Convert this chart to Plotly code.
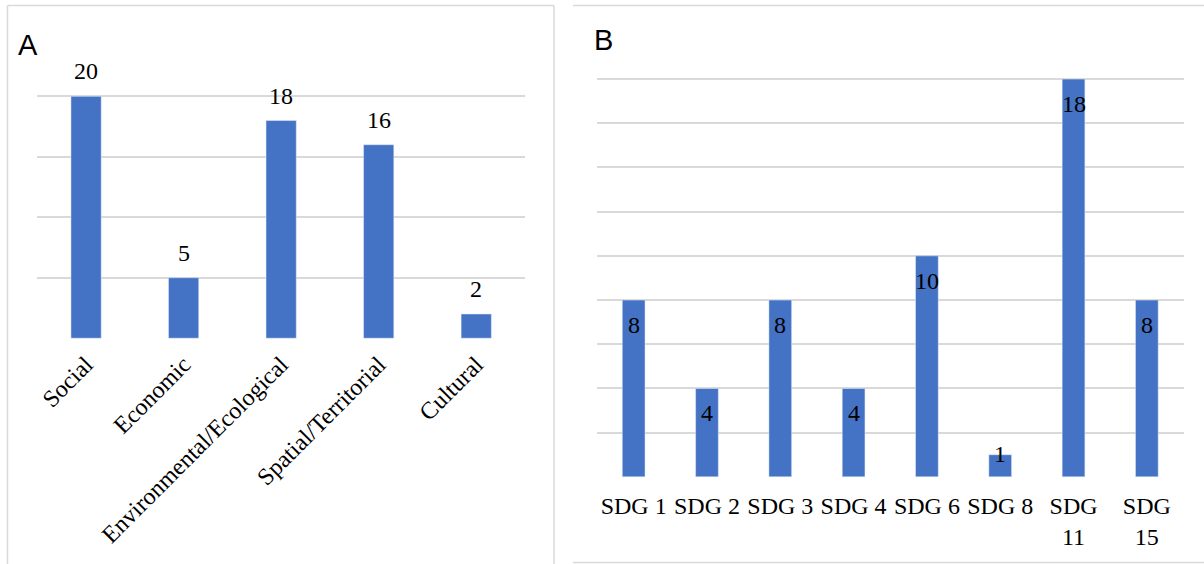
import plotly.graph_objects as go

W, H = 1204, 564

# Panel A: sustainability dimensions
dimensions = ["Social", "Economic", "Environmental/Ecological", "Spatial/Territorial", "Cultural"]
dimension_counts = [20, 5, 18, 16, 2]

# Panel B: Sustainable Development Goals
sdg_labels = ["SDG 1", "SDG 2", "SDG 3", "SDG 4", "SDG 6", "SDG 8", "SDG<br>11", "SDG<br>15"]
sdg_counts = [8, 4, 8, 4, 10, 1, 18, 8]

BAR = "#4472C4"
GRID = "#d9d9d9"
FRAME = "#d9d9d9"
SERIF = "Times New Roman, Liberation Serif, serif"
SANS = "Arial, Liberation Sans, sans-serif"


def fx(p):
    return p / W


def fy(p):
    return 1 - p / H


fig = go.Figure()
fig.add_trace(go.Bar(x=dimensions, y=dimension_counts, marker_color=BAR, width=0.31,
                     xaxis="x", yaxis="y", hoverinfo="skip"))
fig.add_trace(go.Bar(x=sdg_labels, y=sdg_counts, marker_color=BAR, width=0.31,
                     xaxis="x2", yaxis="y2", hoverinfo="skip"))

annotations = []
# value labels above the bars in panel A
for cat, v in zip(dimensions, dimension_counts):
    annotations.append(dict(x=cat, y=v, xref="x", yref="y", text=str(v), showarrow=False,
                            yanchor="bottom", yshift=10, font=dict(family=SERIF, size=24, color="#000")))
# value labels at the inner end of the bars in panel B
for cat, v in zip(sdg_labels, sdg_counts):
    if v < 2:
        annotations.append(dict(x=cat, y=v, xref="x2", yref="y2", text=str(v), showarrow=False,
                                yanchor="middle", yshift=1, font=dict(family=SERIF, size=24, color="#000")))
    else:
        annotations.append(dict(x=cat, y=v, xref="x2", yref="y2", text=str(v), showarrow=False,
                                yanchor="top", yshift=-10, font=dict(family=SERIF, size=24, color="#000")))

# panel letters on white boxes
annotations.append(dict(x=fx(16), y=fy(45), xref="paper", yref="paper", text="A", showarrow=False,
                        xanchor="left", yanchor="middle", align="left", width=41, bgcolor="white",
                        font=dict(family=SANS, size=29, color="#000")))
annotations.append(dict(x=fx(592), y=fy(40), xref="paper", yref="paper", text="B", showarrow=False,
                        xanchor="left", yanchor="middle", align="left", width=35, bgcolor="white",
                        font=dict(family=SANS, size=29, color="#000")))

# panel frames
line = dict(color=FRAME, width=1.5)
shapes = [
    dict(type="line", xref="paper", yref="paper", x0=fx(7.5), x1=fx(7.5), y0=fy(5.5), y1=0, line=line),
    dict(type="line", xref="paper", yref="paper", x0=fx(7.5), x1=fx(554), y0=fy(5.5), y1=fy(5.5), line=line),
    dict(type="line", xref="paper", yref="paper", x0=fx(554), x1=fx(554), y0=fy(5.5), y1=0, line=line),
    dict(type="line", xref="paper", yref="paper", x0=fx(573), x1=1, y0=fy(5.5), y1=fy(5.5), line=line),
    dict(type="line", xref="paper", yref="paper", x0=fx(573), x1=1, y0=fy(562.5), y1=fy(562.5), line=line),
]

fig.update_layout(
    width=W, height=H,
    margin=dict(l=0, r=0, t=0, b=0),
    paper_bgcolor="white", plot_bgcolor="rgba(0,0,0,0)",
    showlegend=False,
    annotations=annotations,
    shapes=shapes,
    xaxis=dict(domain=[fx(37.3), fx(525)], anchor="y", showgrid=False, showline=False, zeroline=False,
               ticks="", tickangle=-45, tickfont=dict(family=SERIF, size=24, color="#000"),
               ticklabelstandoff=6),
    yaxis=dict(domain=[fy(338.8), fy(35.3)], anchor="x", range=[-0.05, 25.05], dtick=5, tick0=0,
               showticklabels=False, showgrid=True, gridcolor=GRID, gridwidth=1.5, zeroline=False),
    xaxis2=dict(domain=[fx(597), fx(1183.5)], anchor="y2", showgrid=False, showline=False, zeroline=False,
                ticks="", tickangle=0, tickfont=dict(family=SERIF, size=24, color="#000"),
                ticklabelstandoff=11),
    yaxis2=dict(domain=[fy(477.7), fy(34)], anchor="x2", range=[-0.04, 20.04], dtick=2, tick0=0,
                showticklabels=False, showgrid=True, gridcolor=GRID, gridwidth=1.5, zeroline=False),
)

fig.write_html("out.html")
